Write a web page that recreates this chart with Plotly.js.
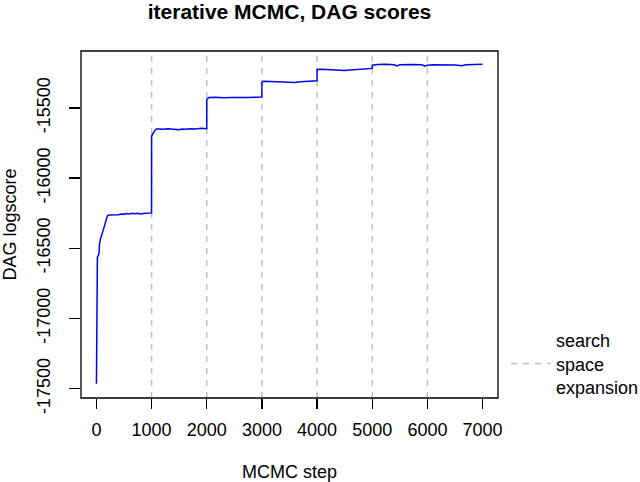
<!DOCTYPE html>
<html>
<head>
<meta charset="utf-8">
<script src="https://cdn.plot.ly/plotly-3.0.1.min.js"></script>
<style>
  html, body { margin: 0; padding: 0; background: #ffffff; }
  #chart { width: 640px; height: 482px; }
</style>
</head>
<body>
<div id="chart"></div>
<script>
// MCMC step (x) and DAG logscore (y)
const steps = [
  0, 6, 12, 17, 40, 48, 55, 60, 75, 90, 110, 126, 140, 155, 168, 185, 199,
  230, 300, 350, 400, 450, 500, 550, 600, 650, 700, 750, 800, 850, 900, 950, 999,
  1000, 1020, 1040, 1060, 1090, 1150, 1200, 1300, 1400, 1500, 1550, 1600, 1700, 1800, 1900, 1999,
  2000, 2040, 2150, 2300, 2450, 2600, 2750, 2900, 2999,
  3000, 3030, 3150, 3300, 3400, 3500, 3600, 3700, 3800, 3900, 3999,
  4000, 4100, 4250, 4400, 4500, 4600, 4750, 4900, 4999,
  5000, 5100, 5250, 5400, 5450, 5500, 5700, 5900, 5960, 6000, 6100, 6300, 6500, 6625, 6700, 6850, 7000
];
const logscore = [
  -17465, -16920, -16700, -16565, -16545, -16530, -16470, -16445, -16430, -16415, -16390, -16372, -16345, -16320, -16305, -16290, -16268,
  -16262, -16262, -16258, -16261, -16255, -16258, -16252, -16255, -16250, -16254, -16250, -16255, -16252, -16250, -16253, -16248,
  -15700, -15690, -15672, -15660, -15650, -15650, -15652, -15648, -15652, -15655, -15650, -15652, -15648, -15650, -15645, -15648,
  -15438, -15426, -15424, -15428, -15425, -15428, -15426, -15424, -15422,
  -15318, -15310, -15312, -15314, -15318, -15314, -15318, -15314, -15312, -15310, -15306,
  -15225, -15224, -15228, -15232, -15233, -15229, -15226, -15222, -15218,
  -15195, -15190, -15188, -15192, -15200, -15192, -15190, -15192, -15203, -15195, -15192, -15192, -15194, -15199, -15192, -15190, -15188
];
// search space expansion points
const expansionSteps = [1000, 2000, 3000, 4000, 5000, 6000];
// axis ticks
const xTicks = [0, 1000, 2000, 3000, 4000, 5000, 6000, 7000];
const yTicks = [-17500, -17000, -16500, -16000, -15500];
const yTickLabels = ["-17500", "-17000", "-16500", "-16000", "-15500"];

const xRange = [-280, 7280];
const yRange = [-17567, -15094];

const vx = [], vy = [];
expansionSteps.forEach(function (s) {
  vx.push(s, s, null);
  vy.push(yRange[0], yRange[1], null);
});

const FONT = "Liberation Sans, Arial, Helvetica, sans-serif";

const traces = [
  {
    x: vx, y: vy, type: "scatter", mode: "lines",
    name: "search<br>space<br>expansion",
    line: { color: "#bebebe", width: 1.5, dash: "6px,6px" },
    hoverinfo: "skip", showlegend: true
  },
  {
    x: steps, y: logscore, type: "scatter", mode: "lines",
    line: { color: "#0000ff", width: 1.5 },
    showlegend: false
  }
];

const layout = {
  width: 640, height: 482,
  margin: { l: 81, r: 142, t: 51, b: 84, pad: 0, autoexpand: false },
  paper_bgcolor: "#ffffff", plot_bgcolor: "#ffffff",
  font: { family: FONT, size: 18, color: "#000000" },
  title: {
    text: "<b>iterative MCMC, DAG scores</b>",
    font: { family: FONT, size: 21, color: "#000000" },
    x: 0.5, xref: "paper", y: 1 - 12 / 482, yref: "container", yanchor: "middle"
  },
  xaxis: {
    range: xRange, tickvals: xTicks, ticktext: xTicks.map(String),
    showgrid: false, zeroline: false, showline: false,
    ticks: "outside", ticklen: 10, tickwidth: 1.3, tickcolor: "#000000",
    ticklabelstandoff: 5,
    tickfont: { family: FONT, size: 18, color: "#000000" },
    title: { text: "MCMC step", font: { family: FONT, size: 18, color: "#000000" }, standoff: 26 },
    automargin: false
  },
  yaxis: {
    range: yRange, tickvals: yTicks, ticktext: yTickLabels,
    showgrid: false, zeroline: false, showline: false,
    ticks: "outside", ticklen: 11, tickwidth: 1.3, tickcolor: "#000000",
    tickangle: -90, ticklabelstandoff: 12,
    tickfont: { family: FONT, size: 18, color: "#000000" },
    title: { text: "DAG logscore", font: { family: FONT, size: 18, color: "#000000" }, standoff: 12 },
    automargin: false
  },
  shapes: [
    { type: "rect", xref: "paper", yref: "paper", x0: 0, x1: 1, y0: 0, y1: 1,
      line: { color: "#000000", width: 1.3 }, fillcolor: "rgba(0,0,0,0)", layer: "above" }
  ],
  legend: {
    x: (506 - 81) / 417, xanchor: "left",
    y: (398 - 364) / 347, yanchor: "middle",
    bgcolor: "rgba(0,0,0,0)", borderwidth: 0,
    font: { family: FONT, size: 18, color: "#000000" },
    itemwidth: 40, valign: "middle"
  },
  showlegend: true
};

Plotly.newPlot("chart", traces, layout, { displayModeBar: false, staticPlot: true });
</script>
</body>
</html>
